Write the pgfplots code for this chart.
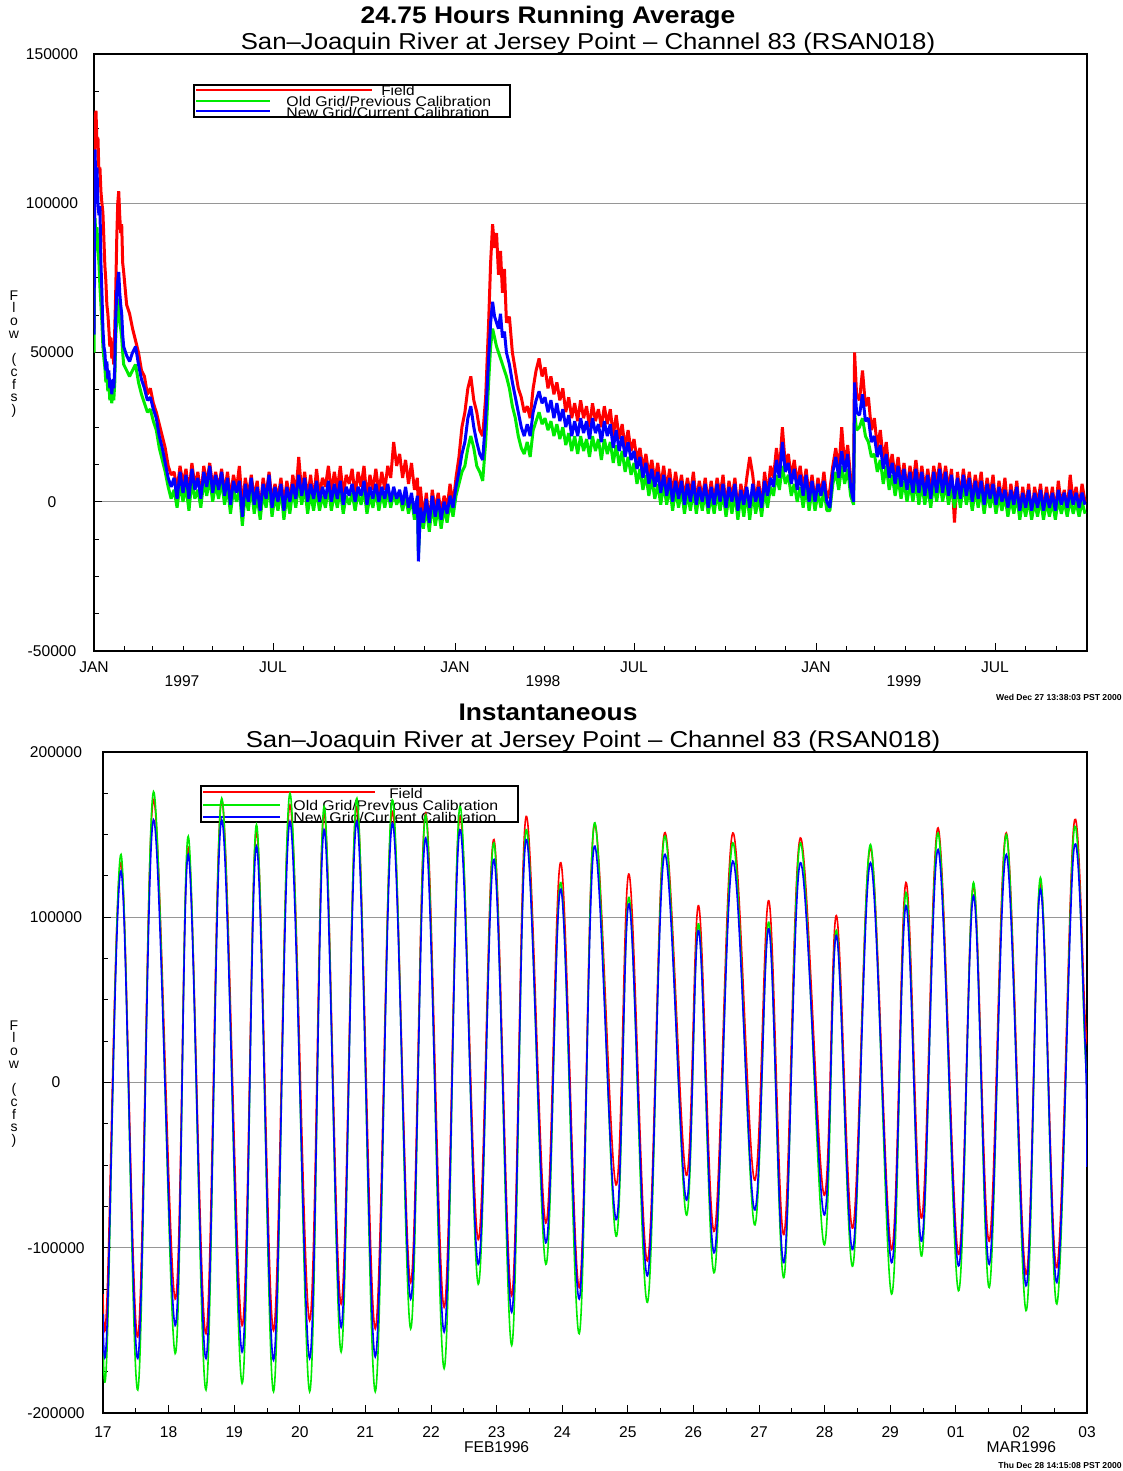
\documentclass[border=0pt]{standalone}
\usepackage{pgfplots}
\pgfplotsset{compat=1.18}
\usepackage{pgfplotstable}
\usepackage{fontspec}
\setmainfont{Liberation Sans}
\definecolor{gridgray}{RGB}{150,150,150}
\definecolor{fred}{RGB}{255,0,0}
\definecolor{fgreen}{RGB}{0,235,0}
\definecolor{fblue}{RGB}{0,0,255}

\pgfplotstableread{
d f o n
0 58 50 56
1 128 95 118
2 131 88 104
3 120 92 112
4 122 85 100
5 110 80 96
6 112 72 99
7 104 66 80
8 100 60 70
9 97 52 58
10 88 48 52
11 79 45 50
12 74 40 44
13 66 42 47
14 63 37 41
15 58 40 44
16 52 34 38
17 55 36 40
18 48 33 36
19 50 37 41
20 46 34 38
21 58 40 45
22 71 55 62
23 88 62 70
24 100 65 74
25 104 68 77
26 96 60 70
27 90 58 66
28 93 55 63
29 80 50 56
30 77 46 52
33 66 44 49
36 63 42 47
39 58 44 50
42 54 46 52
45 50 40 46
48 44 36 41
51 42 33 38
54 36 30 34
57 38 31 35
60 33 27 31
63 30 24 28
66 26 18 22
69 22 14 18
72 18 10 13
75 12 5 8
78 9 1 5
81 10 4 8
84 4 -2 1
87 12 6 10
90 6 0 3
93 11 5 9
96 3 -3 1
99 13 7 11
102 5 1 4
105 10 4 8
108 2 -2 1
111 12 7 10
114 6 2 5
117 13 8 12
120 5 0 3
123 10 6 9
126 4 1 4
129 11 7 10
132 3 -1 2
135 10 5 8
138 1 -4 -1
141 9 4 7
144 4 0 3
147 12 4 7
150 -2 -8 -5
153 8 3 6
156 2 -3 0
159 9 5 8
162 1 -4 -1
165 7 2 5
168 -3 -6 -3
171 8 3 6
174 2 -2 1
177 10 6 9
180 0 -5 -2
183 6 2 5
186 1 -3 0
189 8 4 6
192 -1 -6 -3
195 7 2 5
198 0 -4 0
201 9 4 6
204 2 -2 1
207 15 6 9
210 3 -1 2
213 10 5 8
216 1 -4 0
219 9 3 6
222 0 -3 1
225 11 4 7
228 2 -3 0
231 8 2 5
234 5 -2 1
237 12 5 7
240 3 -3 0
243 10 3 6
246 4 -2 1
249 12 4 7
252 2 -4 -1
255 9 2 5
258 6 -1 2
261 11 3 6
264 2 -3 0
267 10 3 5
270 5 -1 2
273 12 4 7
276 1 -4 -1
279 9 2 5
282 4 -2 1
285 11 4 6
288 3 -3 0
291 10 3 5
294 4 -2 1
297 12 4 6
300 8 -2 0
303 20 3 5
306 12 -1 1
309 16 2 4
312 8 -3 -1
315 14 2 5
318 6 -4 -2
321 13 1 3
324 4 -6 -4
327 8 0 2
328 -5 -18 -20
330 5 -4 -2
333 -6 -9 -7
336 3 -2 1
339 -8 -10 -7
342 4 -1 2
345 -3 -8 -5
348 3 -2 1
351 -4 -9 -6
354 2 -2 0
357 -2 -7 -4
360 6 0 2
363 -1 -5 -2
366 8 2 5
369 15 6 10
372 25 10 16
375 30 12 20
378 38 18 28
381 42 22 32
384 34 18 25
387 30 12 20
390 24 10 16
393 22 7 14
396 35 20 28
399 60 40 48
401 80 52 60
403 93 58 67
405 85 55 62
407 90 52 60
409 76 50 58
411 84 48 63
413 70 46 55
415 78 44 57
417 60 42 50
420 62 38 46
423 50 32 40
426 44 28 35
429 38 22 30
432 35 18 25
435 30 16 22
438 32 20 26
441 28 15 22
444 38 24 30
447 44 27 34
450 48 30 37
453 42 26 33
456 45 28 35
459 38 24 30
462 42 27 34
465 36 22 28
468 40 26 33
471 34 21 27
474 38 25 31
477 30 19 25
480 35 23 29
483 28 17 22
486 33 22 27
489 27 16 22
492 34 22 28
495 28 17 23
498 32 21 27
501 25 15 21
504 33 22 28
507 27 17 23
510 31 21 26
513 25 14 20
516 32 21 27
519 26 16 22
522 31 20 26
525 22 13 18
528 29 19 24
531 21 12 17
534 26 17 22
537 18 10 15
540 24 15 20
543 17 9 14
546 21 13 17
549 14 6 11
552 18 11 15
555 11 4 8
558 16 9 13
561 9 2 6
564 14 8 11
567 7 1 5
570 13 6 10
573 5 -1 3
576 12 6 9
579 4 -1 2
582 11 5 8
585 2 -3 0
588 10 4 7
591 3 -2 1
594 9 4 7
597 1 -4 -1
600 8 3 6
603 2 -3 0
606 10 4 7
609 0 -4 -1
612 7 3 5
615 1 -3 0
618 8 3 6
621 -1 -4 -2
624 7 2 5
627 0 -4 -1
630 8 3 6
633 2 -3 0
636 9 3 6
639 -2 -5 -2
642 7 2 5
645 1 -4 0
648 8 3 6
651 -3 -6 -3
654 6 2 4
657 0 -5 -1
660 8 3 5
663 15 -6 -2
666 9 3 6
669 0 -4 0
672 7 2 5
675 -2 -5 -2
678 10 4 7
681 2 -2 2
684 12 5 8
687 8 2 5
690 18 9 14
693 10 4 8
696 25 12 20
699 12 6 10
702 16 9 13
705 8 2 6
708 14 6 11
711 6 0 4
714 12 5 9
717 4 -2 2
720 11 5 9
723 2 -3 0
726 9 4 7
729 0 -3 0
732 8 3 6
735 2 -2 2
738 10 4 7
741 1 -3 0
744 4 -3 -2
747 12 6 10
750 18 10 15
753 10 4 8
756 25 12 17
759 12 6 10
762 19 11 16
765 8 2 5
768 4 -1 0
769 50 30 40
771 36 24 30
774 34 25 29
777 44 28 36
780 32 22 27
783 35 20 28
786 24 15 20
789 28 16 22
792 18 10 15
795 24 14 19
798 14 6 11
801 20 12 16
804 10 4 8
807 16 9 13
810 8 2 6
813 15 8 12
816 6 1 5
819 13 7 11
822 4 0 4
825 12 6 10
828 6 0 3
831 14 7 11
834 5 -1 3
837 12 6 10
840 4 -1 2
843 11 5 9
846 3 -2 1
849 12 6 10
852 6 0 3
855 13 7 11
858 5 0 3
861 12 6 10
864 4 -1 2
867 11 5 9
870 -7 -2 1
873 10 5 8
876 2 -2 1
879 11 6 9
882 3 -1 2
885 10 4 8
888 1 -3 0
891 9 4 7
894 3 -2 1
897 10 4 7
900 0 -4 -1
903 8 3 6
906 2 -2 1
909 9 3 6
912 -2 -4 -1
915 7 2 5
918 0 -3 0
921 8 2 4
924 -3 -5 -2
927 6 1 4
930 -1 -4 -1
933 7 2 5
936 -4 -6 -3
939 5 0 3
942 -2 -5 -2
945 6 1 4
948 -5 -6 -3
951 5 0 3
954 -1 -5 -2
957 6 1 4
960 -3 -6 -3
963 5 0 3
966 -2 -5 -2
969 5 0 3
972 -4 -6 -3
975 7 1 4
978 -1 -4 -1
981 4 0 3
984 -3 -5 -2
987 9 1 4
990 0 -4 -1
993 5 0 3
996 -2 -5 -2
999 6 0 3
1002 0 -4 -1
}\toptable

\pgfplotstableread{
t f o n
0.00 -128 -150 -140
0.06 -132 -163 -149
0.275 133 138 128
0.53 -154 -186 -167
0.77 171 176 159
1.10 -131 -164 -147
1.30 142 149 138
1.57 -152 -186 -167
1.81 171 172 159
2.12 -147 -182 -163
2.34 152 156 143
2.60 -150 -187 -168
2.85 168 175 158
3.15 -144 -187 -167
3.37 163 167 153
3.63 -134 -163 -148
3.87 167 172 158
4.15 -149 -187 -166
4.41 164 171 157
4.69 -121 -149 -131
4.92 163 162 148
5.20 -136 -173 -151
5.44 161 167 153
5.72 -95 -122 -110
5.96 147 145 135
6.23 -129 -159 -139
6.45 161 153 147
6.75 -85 -110 -97
6.98 133 121 117
7.26 -124 -152 -131
7.49 156 157 143
7.82 -62 -93 -83
8.02 126 112 108
8.30 -108 -133 -117
8.56 151 149 138
8.89 -56 -80 -71
9.08 107 96 92
9.32 -90 -115 -103
9.60 151 145 134
9.93 -59 -86 -77
10.15 110 97 93
10.38 -92 -118 -109
10.63 148 145 133
10.99 -68 -98 -80
11.18 101 92 89
11.43 -88 -111 -101
11.70 142 144 133
12.02 -101 -128 -109
12.24 121 115 107
12.48 -82 -105 -96
12.73 154 151 141
13.04 -104 -126 -111
13.27 119 121 113
13.51 -96 -124 -110
13.77 151 150 138
14.07 -116 -138 -123
14.29 121 124 117
14.54 -112 -134 -121
14.80 156 152 141
14.97 40 20 25
15.00 27 2 -51
}\bottable

\pgfplotsset{
  chartstyle/.style={
    scale only axis,
    axis line style={line width=0.7pt},
    tick align=inside,
    xtick pos=left, ytick pos=left,
    major tick length=4pt, minor tick length=2.5pt,
    every tick/.style={black, line width=0.5pt},
    ymajorgrids, grid style={gridgray, line width=0.5pt},
    ticklabel style={font=\fontsize{7.8}{9}\selectfont},
    yticklabel style={anchor=center},
    scaled ticks=false,
  }
}

\begin{document}
\begin{tikzpicture}
\path[use as bounding box] (0,0) rectangle (561.5pt,-735.5pt);

% ---------- titles ----------
\node[font=\bfseries\fontsize{12}{13}\selectfont, xscale=1.1] at (274pt,-8.5pt) {24.75 Hours Running Average};
\node[font=\fontsize{11.5}{13}\selectfont, xscale=1.12] at (294pt,-22pt) {San–Joaquin River at Jersey Point – Channel 83 (RSAN018)};
\node[font=\bfseries\fontsize{12}{13}\selectfont, xscale=1.1] at (274pt,-356pt) {Instantaneous};
\node[font=\fontsize{11.5}{13}\selectfont, xscale=1.12] at (296.5pt,-371pt) {San–Joaquin River at Jersey Point – Channel 83 (RSAN018)};

% ---------- y labels ----------
\node[font=\fontsize{7}{6.35}\selectfont, align=center, inner sep=0pt] at (7pt,-177pt) {F\\l\\o\\w\\ \\(\\c\\f\\s\\)};
\node[font=\fontsize{7}{6.35}\selectfont, align=center, inner sep=0pt] at (7pt,-542pt) {F\\l\\o\\w\\ \\(\\c\\f\\s\\)};

% ---------- timestamps ----------
\node[anchor=east, font=\bfseries\fontsize{4.3}{5}\selectfont, inner sep=0pt] at (561pt,-348.5pt) {Wed Dec 27 13:38:03 PST 2000};
\node[anchor=east, font=\bfseries\fontsize{4.3}{5}\selectfont, inner sep=0pt] at (561pt,-732.5pt) {Thu Dec 28 14:15:08 PST 2000};

% ---------- legends ----------
\draw[line width=0.6pt] (97pt,-42.5pt) rectangle (255pt,-58.5pt);
\draw[fred, line width=0.6pt] (98pt,-45pt) -- (186pt,-45pt);
\draw[fgreen, line width=0.6pt] (98pt,-50.5pt) -- (135pt,-50.5pt);
\draw[fblue, line width=0.6pt] (98pt,-55.5pt) -- (135pt,-55.5pt);
\node[font=\fontsize{7}{8}\selectfont, inner sep=0pt, xscale=1.1] at (199pt,-45pt) {Field};
\node[anchor=west, font=\fontsize{7}{8}\selectfont, inner sep=0pt, xscale=1.13] at (143pt,-50.5pt) {Old Grid/Previous Calibration};
\node[anchor=west, font=\fontsize{7}{8}\selectfont, inner sep=0pt, xscale=1.13] at (143pt,-56pt) {New Grid/Current Calibration};

\draw[line width=0.6pt] (100.5pt,-393pt) rectangle (259pt,-411pt);
\draw[fred, line width=0.6pt] (101.5pt,-396pt) -- (187.5pt,-396pt);
\draw[fgreen, line width=0.6pt] (101.5pt,-402.5pt) -- (140pt,-402.5pt);
\draw[fblue, line width=0.6pt] (101.5pt,-408.5pt) -- (140pt,-408.5pt);
\node[font=\fontsize{7}{8}\selectfont, inner sep=0pt, xscale=1.1] at (203pt,-396.5pt) {Field};
\node[anchor=west, font=\fontsize{7}{8}\selectfont, inner sep=0pt, xscale=1.13] at (146.5pt,-402.5pt) {Old Grid/Previous Calibration};
\node[anchor=west, font=\fontsize{7}{8}\selectfont, inner sep=0pt, xscale=1.13] at (146.5pt,-408.5pt) {New Grid/Current Calibration};

% ---------- top axis ----------
\begin{axis}[chartstyle,
  at={(47pt,-27pt)}, anchor=north west,
  width=496.5pt, height=298.5pt,
  xmin=0, xmax=1004, ymin=-50, ymax=150,
  ytick={-50,0,50,100,150},
  yticklabels={-50000,0,50000,100000,150000},
  minor y tick num=3,
  yticklabel style={xshift=-21pt},
  xtick={0,181,365,546,730,911},
  xticklabels={JAN,JUL,JAN,JUL,JAN,JUL},
  xticklabel style={yshift=-2pt},
  minor xtick={31,59,90,120,151,212,243,273,304,334,396,424,455,485,516,577,608,638,669,699,761,789,820,850,881,942,973},
  extra x ticks={89,454,819},
  extra x tick labels={1997,1998,1999},
  extra x tick style={major tick length=0pt, xticklabel style={yshift=-7pt}},
]
\addplot[fred, line width=1.5pt, line join=bevel] table[x=d, y=f] {\toptable};
\addplot[fgreen, line width=1.5pt, line join=bevel] table[x=d, y=o] {\toptable};
\addplot[fblue, line width=1.5pt, line join=bevel] table[x=d, y=n] {\toptable};
\end{axis}

% ---------- bottom axis ----------
\begin{axis}[chartstyle,
  at={(51.5pt,-376pt)}, anchor=north west,
  width=492pt, height=330.5pt,
  xmin=0, xmax=15, ymin=-200, ymax=200,
  ytick={-200,-100,0,100,200},
  yticklabels={-200000,-100000,0,100000,200000},
  minor y tick num=3,
  yticklabel style={xshift=-23.5pt},
  xtick={0,1,...,15},
  xticklabels={17,18,19,20,21,22,23,24,25,26,27,28,29,01,02,03},
  minor x tick num=1,
  xticklabel style={yshift=-3.5pt},
  extra x ticks={6,14},
  extra x tick labels={FEB1996,MAR1996},
  extra x tick style={major tick length=0pt, xticklabel style={yshift=-7.5pt}},
]
\addplot[fred, line width=0.8pt, smooth, tension=0.6] table[x=t, y=f] {\bottable};
\addplot[fgreen, line width=0.8pt, smooth, tension=0.6] table[x=t, y=o] {\bottable};
\addplot[fblue, line width=0.8pt, smooth, tension=0.6] table[x=t, y=n] {\bottable};
\end{axis}
\end{tikzpicture}
\end{document}
